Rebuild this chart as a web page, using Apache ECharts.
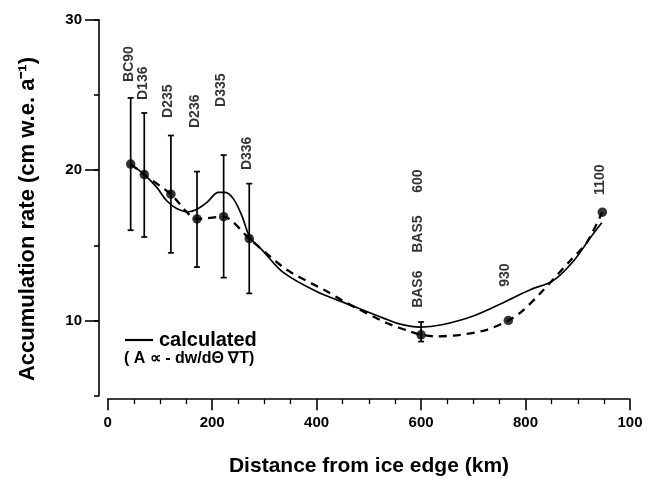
<!DOCTYPE html>
<html><head><meta charset="utf-8">
<script src="https://cdn.jsdelivr.net/npm/echarts@6/dist/echarts.min.js"></script>
<style>html,body{margin:0;padding:0;background:#fff}#c{width:648px;height:479px}</style>
</head><body><div id="c"></div>
<script>
// ---- data ----
const xTickValues = [0, 200, 400, 600, 800, 1000];
const xTickLabels = ['0', '200', '400', '600', '800', '100'];
const yTickLabelValues = [10, 20, 30];

// measured stations (km, cm w.e./a)
const stationX = [44, 70, 121, 171, 222, 271, 600, 767, 947];
const stationY = [20.4, 19.7, 18.4, 16.75, 16.9, 15.45, 9.05, 10.0, 17.2];
const errLow  = [16.0, 15.55, 14.5, 13.55, 12.85, 11.8, 8.6, null, null];
const errHigh = [24.8, 23.8, 22.3, 19.9, 21.0, 19.1, 9.9, null, null];

// station name labels
const labelTexts = ['BC90', 'D136', 'D235', 'D236', 'D335', 'D336', '600', 'BAS5', 'BAS6', '930', '1100'];
const labelX = [41, 67, 115, 167, 217, 267, 594, 594, 594, 761, 943];
const labelY = [25.86, 24.66, 23.47, 22.8, 24.2, 20.0, 18.49, 14.5, 10.84, 12.24, 18.35];

// calculated curve (solid)
const calcX = [44, 69, 94, 113, 132, 155, 171, 190, 212, 225, 241, 257, 273, 298, 336, 400, 464, 528, 560, 598, 640, 700, 764, 809, 853, 892, 924, 946];
const calcY = [20.4, 19.73, 18.85, 17.96, 17.45, 17.23, 17.4, 17.85, 18.52, 18.52, 18.07, 16.96, 15.5, 14.6, 13.2, 11.93, 11.04, 10.16, 9.76, 9.56, 9.72, 10.3, 11.3, 12.05, 12.65, 13.96, 15.5, 16.5];

// observed trend curve (dashed)
const obsX = [44, 70, 121, 171, 222, 271, 343, 420, 458, 534, 579, 600, 630, 675, 726, 767, 793, 827, 885, 917, 947];
const obsY = [20.4, 19.7, 18.4, 16.75, 16.9, 15.45, 13.37, 11.93, 11.16, 9.83, 9.27, 9.05, 8.94, 9.05, 9.38, 10.0, 10.6, 11.76, 13.96, 15.17, 17.2];

const FONT = 'Liberation Sans, Arial, Helvetica, sans-serif';
const chart = echarts.init(document.getElementById('c'), null, {renderer: 'canvas'});

const zip = (a, b) => a.map((v, i) => [v, b[i]]);
const errData = stationX.map((x, i) => [x, errLow[i], errHigh[i]]).filter(d => d[1] != null);

chart.setOption({
  animation: false,
  backgroundColor: '#fff',
  grid: {left: 107.7, right: 18, top: 19.7, bottom: 83.3, containLabel: false},
  xAxis: {
    type: 'value', min: 0, max: 1000, interval: 200,
    offset: 3.5,
    axisLine: {onZero: false, lineStyle: {color: '#000', width: 1.6}},
    axisTick: {length: 11, lineStyle: {color: '#000', width: 1.6}},
    minorTick: {show: true, splitNumber: 4, length: 5, lineStyle: {color: '#000', width: 1.3}},
    splitLine: {show: false},
    axisLabel: {
      margin: 16, color: '#000', fontFamily: FONT, fontSize: 15, fontWeight: 'bold',
      formatter: v => { const i = xTickValues.indexOf(v); return i >= 0 ? xTickLabels[i] : ''; }
    }
  },
  yAxis: [{
    type: 'value', min: 5, max: 30, interval: 5,
    offset: 8.7,
    axisLine: {onZero: false, lineStyle: {color: '#000', width: 1.6}},
    axisTick: {length: 5, lineStyle: {color: '#000', width: 1.6}},
    splitLine: {show: false},
    axisLabel: {
      margin: 17, color: '#000', fontFamily: FONT, fontSize: 15, fontWeight: 'bold',
      formatter: v => yTickLabelValues.indexOf(v) >= 0 ? String(v) : ''
    }
  }, {
    type: 'value', min: 5, max: 30, interval: 5, position: 'left',
    offset: 8.7,
    axisLine: {show: false, onZero: false},
    axisTick: {show: true, length: 14, customValues: yTickLabelValues, lineStyle: {color: '#000', width: 1.6}},
    axisLabel: {show: false},
    splitLine: {show: false}
  }],
  series: [
    {
      name: 'calculated', type: 'line', data: zip(calcX, calcY), smooth: 0.35,
      showSymbol: false, symbol: 'none',
      lineStyle: {color: '#000', width: 1.7}, z: 3
    },
    {
      name: 'observed', type: 'line', data: zip(obsX, obsY), smooth: 0.25,
      showSymbol: false, symbol: 'none',
      lineStyle: {color: '#000', width: 2.3, type: [8, 6]}, z: 3
    },
    {
      name: 'error', type: 'custom', data: errData, z: 4,
      renderItem: (params, api) => {
        const x = api.value(0);
        const lo = api.coord([x, api.value(1)]);
        const hi = api.coord([x, api.value(2)]);
        const w = 3;
        const st = {stroke: '#000', lineWidth: 1.7};
        return {type: 'group', children: [
          {type: 'line', shape: {x1: lo[0], y1: lo[1], x2: hi[0], y2: hi[1]}, style: st},
          {type: 'line', shape: {x1: lo[0] - w, y1: lo[1], x2: lo[0] + w, y2: lo[1]}, style: st},
          {type: 'line', shape: {x1: hi[0] - w, y1: hi[1], x2: hi[0] + w, y2: hi[1]}, style: st}
        ]};
      }
    },
    {
      name: 'stations', type: 'scatter', data: zip(stationX, stationY),
      symbol: 'circle', symbolSize: 9.5, itemStyle: {color: '#000'}, z: 5
    },
    {
      name: 'labels', type: 'scatter', symbolSize: 0, z: 6,
      data: labelTexts.map((t, i) => ({value: [labelX[i], labelY[i]], name: t})),
      label: {
        show: true, formatter: p => p.name, rotate: 90, position: [0, 0],
        align: 'left', verticalAlign: 'middle',
        color: '#000', fontFamily: FONT, fontSize: 14, fontWeight: 'bold'
      }
    }
  ],
  graphic: [
    {type: 'text', x: 28, y: 219, rotation: Math.PI / 2,
      style: {text: 'Accumulation rate (cm w.e. a\u207B\u00B9)', font: 'bold 22px ' + FONT, fill: '#000', align: 'center', verticalAlign: 'middle'}},
    {type: 'text', x: 369, y: 466,
      style: {text: 'Distance from ice edge (km)', font: 'bold 21px ' + FONT, fill: '#000', align: 'center', verticalAlign: 'middle'}},
    {type: 'line', shape: {x1: 125, y1: 340, x2: 153, y2: 340}, style: {stroke: '#000', lineWidth: 2.2}},
    {type: 'text', x: 159, y: 340,
      style: {text: 'calculated', font: 'bold 20px ' + FONT, fill: '#000', align: 'left', verticalAlign: 'middle'}},
    {type: 'text', x: 124, y: 359,
      style: {text: '( A \u221D - dw/d\u0398 \u2207T)', font: 'bold 16px ' + FONT, fill: '#000', align: 'left', verticalAlign: 'middle'}}
  ]
});
</script>
</body></html>
